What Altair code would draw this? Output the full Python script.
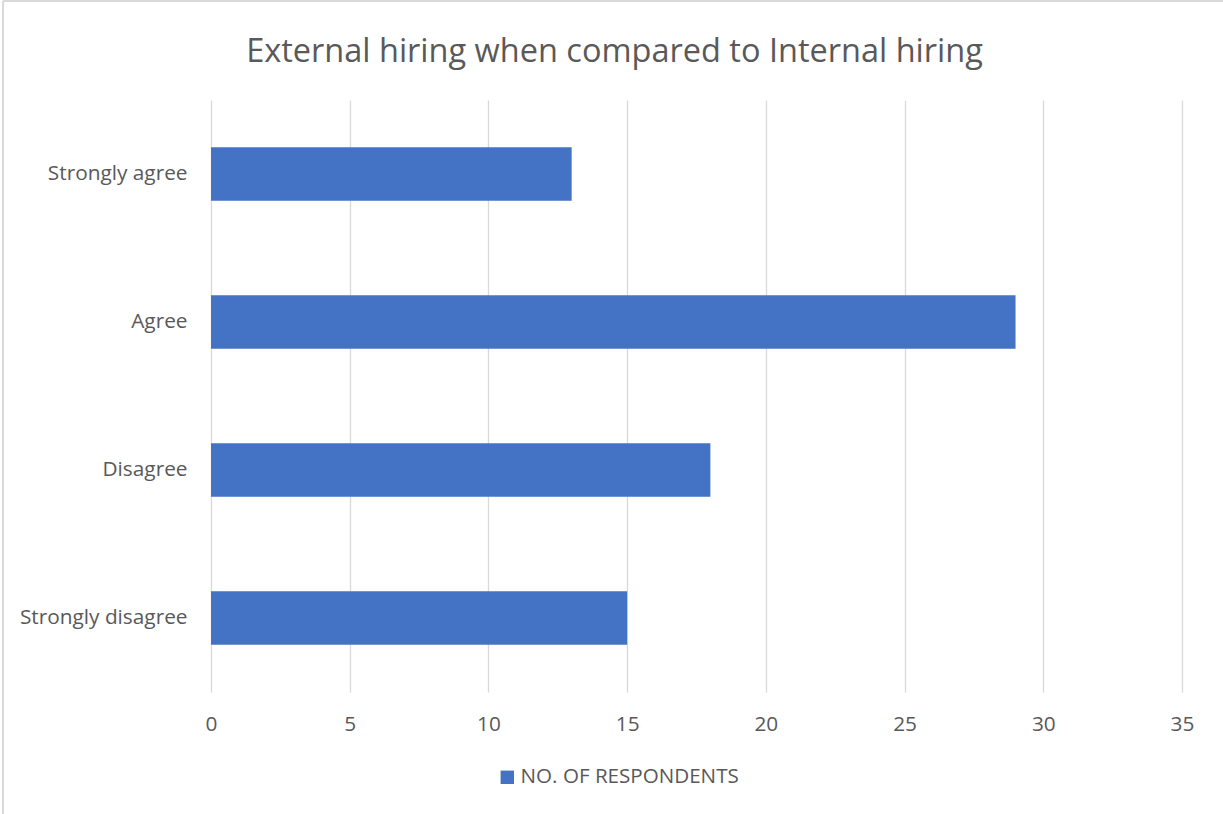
import altair as alt
import pandas as pd

categories = ["Strongly agree", "Agree", "Disagree", "Strongly disagree"]
values = [13, 29, 18, 15]
series_name = "NO. OF RESPONDENTS"
x_ticks = [0, 5, 10, 15, 20, 25, 30, 35]

df = pd.DataFrame({"category": categories, "value": values, "series": [series_name] * len(categories)})

FONT = "Open Sans"
TXT = "#595959"
BAR = "#4472C4"

bars = alt.Chart(df).mark_bar(color=BAR).encode(
    x=alt.X("value:Q", scale=alt.Scale(domain=[0, 35], nice=False),
            axis=alt.Axis(values=x_ticks, title=None, grid=True, gridColor="#d9d9d9", gridWidth=1.3,
                          domain=False, ticks=False, labelFont=FONT, labelFontSize=20.8,
                          labelColor=TXT, labelPadding=22, labelFlush=False)),
    y=alt.Y("category:N", sort=categories,
            scale=alt.Scale(paddingInner=0.64, paddingOuter=0.32),
            axis=alt.Axis(title=None, domain=False, ticks=False, grid=False, labelFont=FONT,
                          labelFontSize=20.8, labelColor=TXT, labelPadding=24, labelLimit=400)),
    color=alt.Color("series:N", scale=alt.Scale(range=[BAR]),
                    legend=alt.Legend(title=None, orient="none", legendX=286, legendY=667,
                                      symbolType="square", symbolSize=180, symbolStrokeWidth=0,
                                      symbolFillColor=BAR, symbolOpacity=1,
                                      labelFont=FONT, labelFontSize=20.6, labelColor=TXT,
                                      labelOffset=3, labelLimit=500)),
)

border = alt.Chart(df).mark_rule(color="#d9d9d9", strokeWidth=2).encode(
    x=alt.value(-208), y=alt.value(-99), y2=alt.value(714)
) + alt.Chart(df).mark_rule(color="#d9d9d9", strokeWidth=2).encode(
    x=alt.value(-208), x2=alt.value(1012), y=alt.value(-99)
)

chart = alt.layer(bars, border).properties(
    width=971, height=592,
    view=alt.ViewBackground(strokeOpacity=0, strokeWidth=0),
    title=alt.TitleParams("External hiring when compared to Internal hiring", font=FONT,
                          fontSize=32.5, fontWeight="normal", color=TXT, anchor="middle",
                          dx=-82, offset=-68),
    autosize=alt.AutoSizeParams(type="none"),
    padding={"left": 211, "top": 100, "right": 41, "bottom": 122},
).configure_view(strokeWidth=0, strokeOpacity=0, stroke="transparent").configure(background="white")

chart.save("out.html", embed_options={"renderer": "svg", "actions": False})
